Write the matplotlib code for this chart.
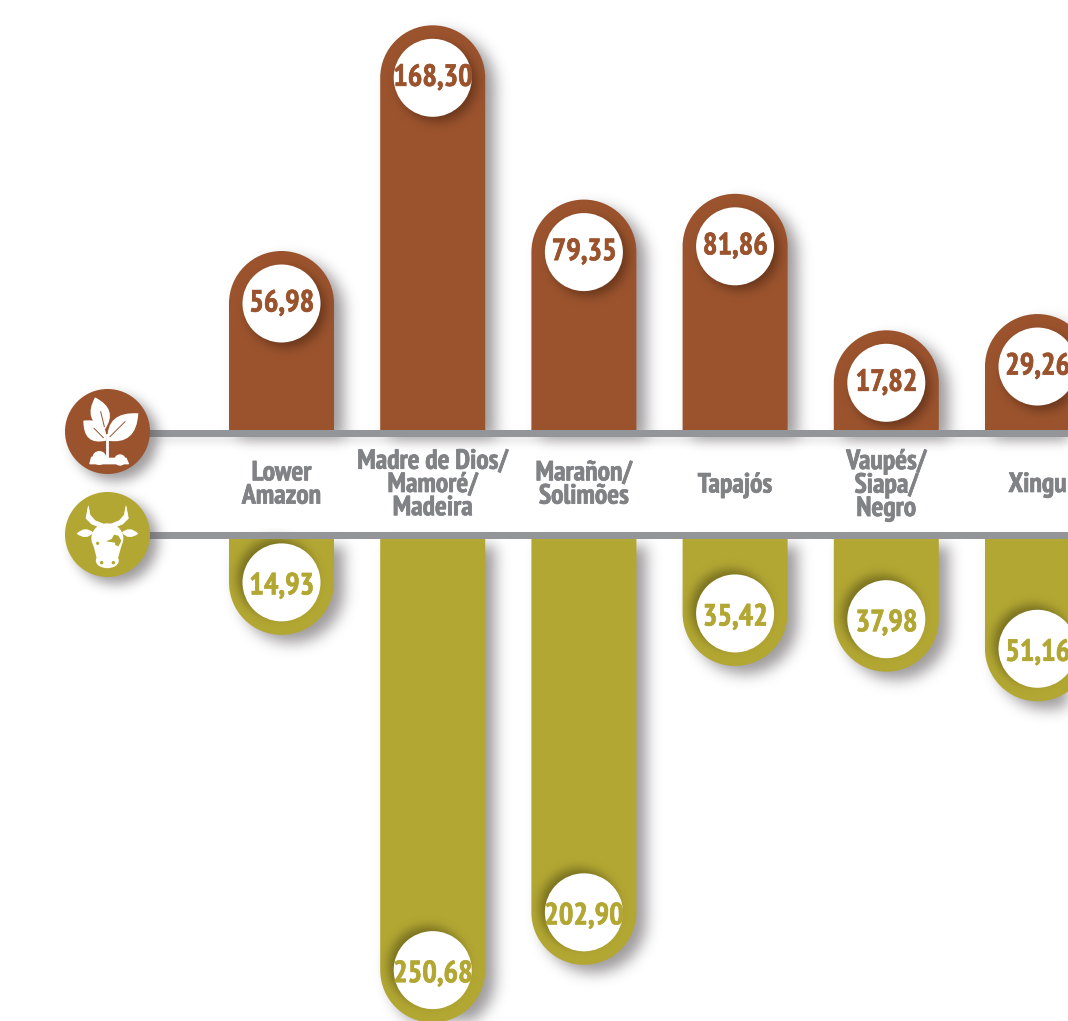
import logging

import numpy as np
import matplotlib
matplotlib.use("Agg")
import matplotlib.patheffects as pe
import matplotlib.pyplot as plt
from matplotlib.colors import to_rgb
from matplotlib.patches import Circle, Ellipse, PathPatch, Polygon, Rectangle
from matplotlib.path import Path
from matplotlib.transforms import Affine2D

logging.getLogger("matplotlib.font_manager").setLevel(logging.ERROR)

regions = ["Lower\nAmazon", "Madre de Dios/\nMamoré/\nMadeira", "Marañon/\nSolimões",
           "Tapajós", "Vaupés/\nSiapa/\nNegro", "Xingu"]
crop_values = [56.98, 168.30, 79.35, 81.86, 17.82, 29.26]
cattle_values = [14.93, 250.68, 202.90, 35.42, 37.98, 51.16]

# the bar lengths follow a stretched, non linear axis
crop_axis_values = [0, 18, 30, 82, 170]
crop_axis_px = [70, 100, 117, 236.5, 408]
cattle_axis_values = [0, 15, 35, 51, 203, 251]
cattle_axis_px = [70, 97, 127, 163, 427, 485]

BROWN = "#9A532D"
GOLD = "#B3A733"
GREY_LINE = "#939598"
GREY_TEXT = "#808285"
SHADOW = "#5E585C"

FONT = ["PT Sans Narrow", "Fira Sans Condensed", "Roboto", "DejaVu Sans"]
BAR_W = 105
RADIUS = 39
TOP_Y = 430
BOTTOM_Y = 538


def blur(sigma, alpha, color):
    # agg filter: soft edge for the drop shadows
    size = int(sigma * 3)
    kernel = np.exp(-0.5 * (np.arange(-size, size + 1) / sigma) ** 2)
    kernel /= kernel.sum()
    rgb = to_rgb(color)

    def apply(img, dpi):
        pad = size * 2
        out = np.pad(img, ((pad, pad), (pad, pad), (0, 0)))
        a = out[..., 3]
        a = np.apply_along_axis(np.convolve, 0, a, kernel, mode="same")
        a = np.apply_along_axis(np.convolve, 1, a, kernel, mode="same")
        out[..., :3] = rgb
        out[..., 3] = a * alpha
        return out, -pad, -pad
    return apply


def pill_path(x, base, length, down):
    # bar with a full round cap at the far end
    r = BAR_W / 2
    s = 1 if down else -1
    k = 0.5523 * r
    end = base + s * length
    mid = end - s * r
    verts = [(x - r, base), (x - r, mid),
             (x - r, mid + s * k), (x - k, end), (x, end),
             (x + k, end), (x + r, mid + s * k), (x + r, mid),
             (x + r, base), (x - r, base)]
    codes = [Path.MOVETO, Path.LINETO, Path.CURVE4, Path.CURVE4, Path.CURVE4,
             Path.CURVE4, Path.CURVE4, Path.CURVE4, Path.LINETO, Path.CLOSEPOLY]
    return Path(verts, codes)


def shadow_of(ax, patch, dx, dy, sigma, alpha, color=SHADOW, z=1):
    patch.set(facecolor=color, edgecolor="none", zorder=z)
    patch.set_transform(Affine2D().translate(dx, dy) + ax.transData)
    patch.set_agg_filter(blur(sigma, alpha, color))
    ax.add_patch(patch)


def bold_text(ax, x, y, text, color, size, **kwargs):
    # a thin stroke makes the narrow bold a little heavier
    t = ax.text(x, y, text, color=color, family=FONT, weight="bold", fontsize=size,
                ha="center", zorder=5, **kwargs)
    t.set_path_effects([pe.withStroke(linewidth=0.5, foreground=color)])
    return t


def draw_bar(ax, x, value, axis_values, axis_px, base, down, color, inner_shadow, inner_offset):
    length = np.interp(value, axis_values, axis_px)
    shadow_of(ax, PathPatch(pill_path(x, base, length, down)), 10, 8, 7, 0.6)
    ax.add_patch(PathPatch(pill_path(x, base, length, down), facecolor=color, edgecolor="none", zorder=2))
    cy = base + (length - BAR_W / 2) * (1 if down else -1)
    shadow_of(ax, Circle((x, cy), RADIUS), inner_offset[0], inner_offset[1], 5, 0.6, inner_shadow, 3)
    ax.add_patch(Circle((x, cy), RADIUS, facecolor="white", edgecolor="none", zorder=4))
    text_y = cy + 1 if down else cy - 3
    bold_text(ax, x, text_y, f"{value:.2f}".replace(".", ","), color, 22, va="center_baseline")


def leaf(tip, base, width):
    # two quadratic curves between the base and the tip of a leaf
    tip, base = np.array(tip, float), np.array(base, float)
    d = tip - base
    n = np.array([-d[1], d[0]]) / np.hypot(*d)
    mid = base + d * 0.45
    verts = [base, mid + n * width, tip, mid - n * width, base]
    codes = [Path.MOVETO, Path.CURVE3, Path.CURVE3, Path.CURVE3, Path.CURVE3]
    return Path(verts, codes)


def icon_xy(zx, zy):
    # icon outlines are sketched on a 3x grid
    return 50 + zx / 3, 370 + zy / 3


def draw_plant(ax):
    to = icon_xy
    for tip, base, w in [((135, 82), (165, 178), 19), ((100, 152), (168, 212), 19), ((265, 130), (172, 212), 23)]:
        ax.add_patch(PathPatch(leaf(to(*tip), to(*base), w), facecolor="white", edgecolor="none", zorder=6))
    ax.plot(*zip(to(152, 125), to(163, 170)), color=BROWN, lw=0.7, zorder=7)
    ax.plot(*zip(to(132, 175), to(160, 203)), color=BROWN, lw=0.7, zorder=7)
    ax.plot(*zip(to(225, 155), to(180, 200)), color=BROWN, lw=0.7, zorder=7)
    ax.plot(*zip(to(170, 195), to(170, 265)), color="white", lw=2, zorder=6)
    mound = [to(120, 281), to(125, 262), to(172, 265), to(228, 265), to(235, 281)]
    ax.add_patch(Polygon(mound, closed=True, facecolor="white", edgecolor="white", lw=1, joinstyle="round", zorder=6))
    for x, y, r in [(148, 264, 21), (210, 270, 17)]:
        ax.add_patch(Circle(to(x, y), r / 3, facecolor="white", edgecolor="none", zorder=6))


def draw_cow(ax):
    to = icon_xy
    # horns
    for outer in ([(115, 408), (108, 445), (125, 462), (150, 472), (160, 462), (135, 452), (120, 435)],
                  [(228, 408), (235, 445), (218, 462), (193, 472), (183, 462), (208, 452), (223, 435)]):
        ax.add_patch(Polygon([to(*p) for p in outer], closed=True, facecolor="white",
                             edgecolor="white", lw=0.5, joinstyle="round", zorder=6))
    # ears
    ax.add_patch(PathPatch(leaf(to(80, 491), to(130, 488), 8), facecolor="white", edgecolor="none", zorder=6))
    ax.add_patch(PathPatch(leaf(to(265, 491), to(215, 488), 8), facecolor="white", edgecolor="none", zorder=6))
    # head and snout
    ax.add_patch(Ellipse(to(172, 505), 32, 30, facecolor="white", edgecolor="none", zorder=6))
    ax.add_patch(Ellipse(to(172, 572), 23, 15, facecolor="white", edgecolor="none", zorder=6))
    ax.add_patch(Polygon([to(130, 525), to(215, 525), to(203, 568), to(141, 568)], closed=True,
                         facecolor="white", edgecolor="none", zorder=6))
    # spot, eyes and nostrils
    ax.add_patch(Polygon([to(168, 514), to(185, 507), to(192, 494), to(205, 497), to(214, 512),
                          to(205, 530), to(195, 518)], closed=True, facecolor=GOLD, edgecolor="none", zorder=7))
    for x, y, r in [(143, 520, 1.6), (200, 522, 1.6), (155, 578, 1.7), (190, 578, 1.7)]:
        ax.add_patch(Circle(to(x, y), r, facecolor=GOLD, edgecolor="none", zorder=7))


def main() -> None:
    fig = plt.figure(figsize=(10.68, 10.21), dpi=100)
    ax = fig.add_axes([0, 0, 1, 1])
    ax.set_xlim(0, 1068)
    ax.set_ylim(1021, 0)
    ax.axis("off")

    centres = 281.5 + 151.2 * np.arange(len(regions))

    shadow_of(ax, Rectangle((150, TOP_Y), 950, 7), 0, 5, 4, 0.18)
    for x, crop, cattle, name in zip(centres, crop_values, cattle_values, regions):
        draw_bar(ax, x, crop, crop_axis_values, crop_axis_px, TOP_Y, False, BROWN, "#4A2412", (5, 5))
        draw_bar(ax, x, cattle, cattle_axis_values, cattle_axis_px, BOTTOM_Y, True, GOLD, "#4F4A12", (-5, -5))
        bold_text(ax, x, 485, name, GREY_TEXT, 20, va="center", linespacing=0.96)

    for y in (TOP_Y, BOTTOM_Y - 6):
        ax.add_patch(Rectangle((140, y), 950, 6.5, facecolor=GREY_LINE, edgecolor="none", zorder=5))

    for cy, color in [(431.5, BROWN), (534.5, GOLD)]:
        shadow_of(ax, Circle((107.5, cy), 42.5), 8, 7, 6, 0.6, SHADOW, 5)
        ax.add_patch(Circle((107.5, cy), 42.5, facecolor=color, edgecolor="none", zorder=5.5))
    draw_plant(ax)
    draw_cow(ax)

    fig.savefig("out.png", dpi=100, facecolor="white")


if __name__ == "__main__":
    main()
